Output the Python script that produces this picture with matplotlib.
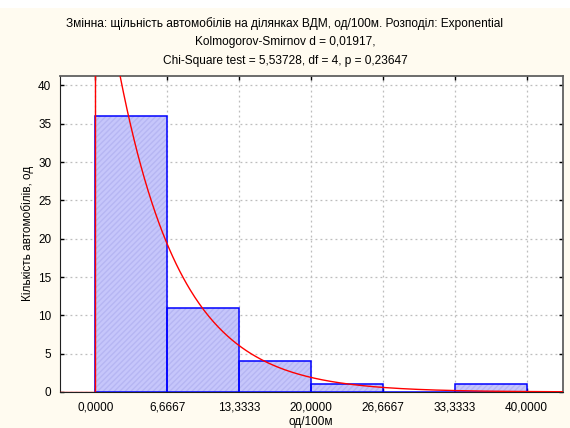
import numpy as np
import matplotlib
matplotlib.use("Agg")
import matplotlib.pyplot as plt
from matplotlib.patches import Rectangle

plt.rcParams['font.family'] = ['Liberation Sans', 'DejaVu Sans']

# data
bin_edges = [0.0, 6.6667, 13.3333, 20.0, 26.6667, 33.3333, 40.0]
counts = [36, 11, 4, 1, 0, 1]
tick_labels = ["0,0000", "6,6667", "13,3333", "20,0000", "26,6667", "33,3333", "40,0000"]
y_ticks = [0, 5, 10, 15, 20, 25, 30, 35, 40]
n_total = 53
rate = 0.1737  # fitted exponential rate

title_lines = ["Змінна: щільність автомобілів на ділянках ВДМ, од/100м. Розподіл: Exponential",
               "Kolmogorov-Smirnov d = 0,01917,",
               "Chi-Square test = 5,53728, df = 4, p = 0,23647"]
title_y_px = [24, 42.5, 61]

W, H = 570, 428
fig = plt.figure(figsize=(W/100, H/100), dpi=100)
fig.patch.set_facecolor('#fffbf0')
fig.patches.append(Rectangle((0, 1 - 8/H), 1, 8/H, transform=fig.transFigure,
                             facecolor='white', edgecolor='none', zorder=0))

ax = fig.add_axes([59.5/W, 1 - 392/H, (562.5-59.5)/W, (392-75.5)/H])
ax.set_facecolor('white')

width = bin_edges[1] - bin_edges[0]
lefts = bin_edges[:-1]
ax.bar(lefts, counts, width=width, align='edge', facecolor='#c6c6fb',
       edgecolor='#b6b6f3', hatch='//////', linewidth=0, zorder=2)
ax.bar(lefts, counts, width=width, align='edge', fill=False,
       edgecolor='#0000ff', linewidth=1.1, zorder=3)

xmin, xmax = -3.3333, 43.3333
x_pos = np.linspace(0, xmax, 400)
scale = n_total * width * rate
ax.plot([xmin, 0.0], [0, 0], color='#ff0000', lw=1.0, zorder=4)
ax.plot([0, 0], [0, scale], color='#ff0000', lw=1.0, zorder=4)
ax.plot(x_pos, scale * np.exp(-rate * x_pos), color='#ff0000', lw=1.0, zorder=4)

ax.set_xlim(xmin, xmax)
ax.set_ylim(0, 41.3)
ax.set_xticks(bin_edges)
ax.set_xticklabels(tick_labels)
ax.set_yticks(y_ticks)
ax.grid(True, color='#bdbdbd', linestyle=(0, (1.5, 2.5)), linewidth=0.9, zorder=1)
ax.set_axisbelow(True)
ax.tick_params(direction='in', length=3, width=1, top=True, right=True,
               labelsize=8.5, colors='black')
ax.tick_params(axis='x', pad=6.5)
ax.tick_params(axis='y', pad=6)
for s in ['left', 'bottom']:
    ax.spines[s].set_color('#202020')
for s in ['top', 'right']:
    ax.spines[s].set_color('#606060')
    ax.spines[s].set_linewidth(1.3)

ax.set_xlabel('од/100м', fontsize=8.5, labelpad=2.5)
ax.set_ylabel('Кількість автомобілів, од', fontsize=8.5, labelpad=3)
for line, ypx in zip(title_lines, title_y_px):
    fig.text(0.5, 1 - ypx/H, line, ha='center', va='center', fontsize=8.6)

fig.savefig('out.png', dpi=100, facecolor=fig.get_facecolor())
